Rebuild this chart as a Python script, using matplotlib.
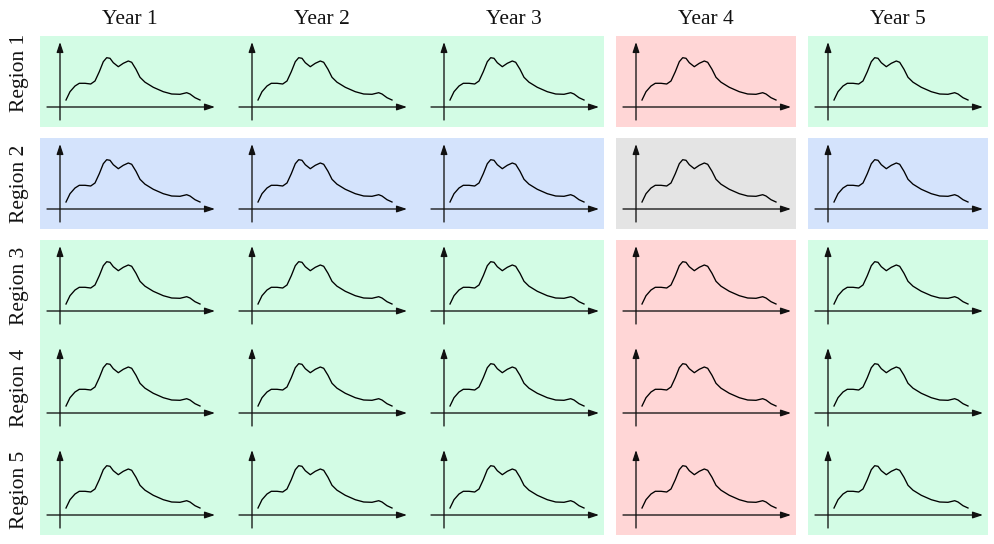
import matplotlib.pyplot as plt
from matplotlib.patches import Rectangle

years = ['Year 1', 'Year 2', 'Year 3', 'Year 4', 'Year 5']
regions = ['Region 1', 'Region 2', 'Region 3', 'Region 4', 'Region 5']

# background kind of each cell, rows = regions, cols = years
cell_kind = [
    ['g', 'g', 'g', 'r', 'g'],
    ['b', 'b', 'b', 'k', 'b'],
    ['g', 'g', 'g', 'r', 'g'],
    ['g', 'g', 'g', 'r', 'g'],
    ['g', 'g', 'g', 'r', 'g'],
]
kind_colors = {'g': '#d3fce5', 'b': '#d4e3fc', 'r': '#ffd6d6', 'k': '#e4e4e4'}

# the little sketch curve, same in every cell
curve_x = [6, 10, 15, 19.3, 25, 30.7, 35, 39.3, 43.3, 46.7, 50, 53.3, 58.3, 63.3,
           68.3, 71.7, 76, 80, 85, 93.3, 103.3, 111.7, 120, 126.7, 130, 135, 140]
curve_y = [7, 15.3, 21, 23.7, 23.7, 23, 26, 35.3, 45.3, 49.3, 48.7, 44.3, 40.3, 43.7,
           46, 44.7, 37.7, 29.7, 24.8, 19.7, 15.3, 13, 12.7, 14.3, 13, 9.3, 7]

W, H = 995, 544
fig = plt.figure(figsize=(W / 100, H / 100), dpi=100)

x0, y0 = 40, 36      # top-left of grid, pixels
cw, ch = 180, 91     # cell size
gx, gy = 12, 11      # gaps

def box(px, py, w, h):
    return [px / W, 1 - (py + h) / H, w / W, h / H]

nr, nc = len(regions), len(years)
for i in range(nr):
    for j in range(nc):
        k = cell_kind[i][j]
        px = x0 + j * (cw + gx)
        py = y0 + i * (ch + gy)
        w, h = cw, ch
        # merge with neighbours of the same kind
        if j + 1 < nc and cell_kind[i][j + 1] == k:
            w += gx
        if i + 1 < nr and cell_kind[i + 1][j] == k:
            h += gy
        l, b, ww, hh = box(px, py, w, h)
        fig.add_artist(Rectangle((l, b), ww, hh, transform=fig.transFigure,
                                 facecolor=kind_colors[k], edgecolor='none', zorder=0))

arr = dict(arrowstyle='-|>,head_length=0.6,head_width=0.2', color='#111111',
           lw=0.95, shrinkA=0, shrinkB=0, mutation_scale=10)

for i in range(nr):
    for j in range(nc):
        px = x0 + j * (cw + gx)
        py = y0 + i * (ch + gy)
        ax = fig.add_axes(box(px, py, cw, ch))
        ax.patch.set_visible(False)
        ax.axis('off')
        ax.set_xlim(-20, 160)
        ax.set_ylim(-20, 71)
        ax.annotate('', xy=(155, 0), xytext=(-13, 0), arrowprops=arr)
        ax.annotate('', xy=(0, 65), xytext=(0, -13), arrowprops=arr)
        ax.plot(curve_x, curve_y, color='black', lw=0.95, solid_joinstyle='round')

for j, t in enumerate(years):
    cx = x0 + j * (cw + gx) + cw / 2
    fig.text(cx / W, 1 - 20 / H, t, ha='center', va='center',
             family='Liberation Serif', fontsize=15.5, color='#111111')

for i, t in enumerate(regions):
    cy = y0 + i * (ch + gy) + ch / 2
    if i == 0:
        cy -= 9   # first label sits a bit higher in the original
    fig.text(20 / W, 1 - cy / H, t, ha='center', va='center', rotation=90,
             family='Liberation Serif', fontsize=15.5, color='#111111')

fig.savefig('out.png', dpi=100)
